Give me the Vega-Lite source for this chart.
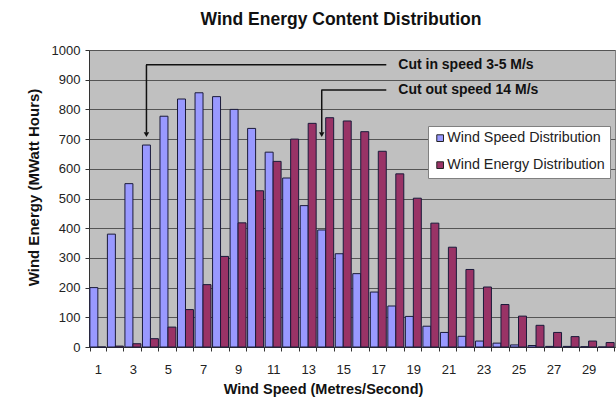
{
  "$schema": "https://vega.github.io/schema/vega-lite/v6.json",
  "autosize": {"type": "none"},
  "padding": {"left": 89, "top": 50, "right": 1, "bottom": 51},
  "width": 526,
  "height": 297,
  "background": "white",
  "config": {
    "font": "Liberation Sans",
    "view": {"fill": "#C0C0C0", "stroke": "#808080", "strokeWidth": 1},
    "axisX": {
      "titleFont": "Liberation Sans",
      "titleFontSize": 14.5,
      "titleFontWeight": "bold",
      "titleColor": "#111111",
      "titleX": 234,
      "titleY": 42,
      "titleAlign": "center",
      "titleBaseline": "middle",
      "labelAngle": 0,
      "labelFontSize": 13,
      "labelColor": "#222222",
      "labelPadding": 18,
      "labelBaseline": "middle",
      "labelExpr": "datum.value % 2 == 1 ? datum.label : ''",
      "tickBand": "extent",
      "tickSize": 4,
      "tickColor": "#333333",
      "domainColor": "#333333",
      "grid": false
    },
    "axisY": {
      "titleFont": "Liberation Sans",
      "titleFontSize": 15,
      "titleFontWeight": "bold",
      "titleColor": "#111111",
      "titleX": -56,
      "titleY": 137,
      "titleAngle": -90,
      "titleAlign": "center",
      "titleBaseline": "middle",
      "tickCount": 10,
      "format": "d",
      "labelOverlap": false,
      "labelFontSize": 13,
      "labelColor": "#222222",
      "labelPadding": 5,
      "tickSize": 4,
      "tickColor": "#333333",
      "domainColor": "#333333",
      "grid": true,
      "gridColor": "#555555",
      "gridWidth": 1
    }
  },
  "title": {
    "text": "Wind Energy Content Distribution",
    "font": "Liberation Sans",
    "fontSize": 17.5,
    "fontWeight": "bold",
    "color": "#111111",
    "anchor": "middle",
    "offset": 16,
    "dx": -11
  },
  "datasets": {
    "bars": [
      {"speed": 1, "series": "Wind Speed Distribution", "value": 200},
      {"speed": 2, "series": "Wind Speed Distribution", "value": 380},
      {"speed": 3, "series": "Wind Speed Distribution", "value": 550},
      {"speed": 4, "series": "Wind Speed Distribution", "value": 680},
      {"speed": 5, "series": "Wind Speed Distribution", "value": 777},
      {"speed": 6, "series": "Wind Speed Distribution", "value": 835},
      {"speed": 7, "series": "Wind Speed Distribution", "value": 856},
      {"speed": 8, "series": "Wind Speed Distribution", "value": 843},
      {"speed": 9, "series": "Wind Speed Distribution", "value": 800},
      {"speed": 10, "series": "Wind Speed Distribution", "value": 736},
      {"speed": 11, "series": "Wind Speed Distribution", "value": 656},
      {"speed": 12, "series": "Wind Speed Distribution", "value": 569},
      {"speed": 13, "series": "Wind Speed Distribution", "value": 476},
      {"speed": 14, "series": "Wind Speed Distribution", "value": 394},
      {"speed": 15, "series": "Wind Speed Distribution", "value": 314},
      {"speed": 16, "series": "Wind Speed Distribution", "value": 247},
      {"speed": 17, "series": "Wind Speed Distribution", "value": 185},
      {"speed": 18, "series": "Wind Speed Distribution", "value": 138},
      {"speed": 19, "series": "Wind Speed Distribution", "value": 103},
      {"speed": 20, "series": "Wind Speed Distribution", "value": 70},
      {"speed": 21, "series": "Wind Speed Distribution", "value": 49},
      {"speed": 22, "series": "Wind Speed Distribution", "value": 36},
      {"speed": 23, "series": "Wind Speed Distribution", "value": 20},
      {"speed": 24, "series": "Wind Speed Distribution", "value": 13},
      {"speed": 25, "series": "Wind Speed Distribution", "value": 7},
      {"speed": 26, "series": "Wind Speed Distribution", "value": 5},
      {"speed": 27, "series": "Wind Speed Distribution", "value": 2},
      {"speed": 28, "series": "Wind Speed Distribution", "value": 2},
      {"speed": 29, "series": "Wind Speed Distribution", "value": 1},
      {"speed": 30, "series": "Wind Speed Distribution", "value": 0},
      {"speed": 1, "series": "Wind Energy Distribution", "value": 0},
      {"speed": 2, "series": "Wind Energy Distribution", "value": 3},
      {"speed": 3, "series": "Wind Energy Distribution", "value": 11},
      {"speed": 4, "series": "Wind Energy Distribution", "value": 28},
      {"speed": 5, "series": "Wind Energy Distribution", "value": 67},
      {"speed": 6, "series": "Wind Energy Distribution", "value": 126},
      {"speed": 7, "series": "Wind Energy Distribution", "value": 210},
      {"speed": 8, "series": "Wind Energy Distribution", "value": 305},
      {"speed": 9, "series": "Wind Energy Distribution", "value": 418},
      {"speed": 10, "series": "Wind Energy Distribution", "value": 526},
      {"speed": 11, "series": "Wind Energy Distribution", "value": 625},
      {"speed": 12, "series": "Wind Energy Distribution", "value": 700},
      {"speed": 13, "series": "Wind Energy Distribution", "value": 753},
      {"speed": 14, "series": "Wind Energy Distribution", "value": 772},
      {"speed": 15, "series": "Wind Energy Distribution", "value": 761},
      {"speed": 16, "series": "Wind Energy Distribution", "value": 725},
      {"speed": 17, "series": "Wind Energy Distribution", "value": 659},
      {"speed": 18, "series": "Wind Energy Distribution", "value": 583},
      {"speed": 19, "series": "Wind Energy Distribution", "value": 501},
      {"speed": 20, "series": "Wind Energy Distribution", "value": 417},
      {"speed": 21, "series": "Wind Energy Distribution", "value": 336},
      {"speed": 22, "series": "Wind Energy Distribution", "value": 261},
      {"speed": 23, "series": "Wind Energy Distribution", "value": 202},
      {"speed": 24, "series": "Wind Energy Distribution", "value": 143},
      {"speed": 25, "series": "Wind Energy Distribution", "value": 104},
      {"speed": 26, "series": "Wind Energy Distribution", "value": 73},
      {"speed": 27, "series": "Wind Energy Distribution", "value": 49},
      {"speed": 28, "series": "Wind Energy Distribution", "value": 35},
      {"speed": 29, "series": "Wind Energy Distribution", "value": 20},
      {"speed": 30, "series": "Wind Energy Distribution", "value": 15}
    ],
    "notes": [
      {"label": "Cut in speed 3-5 M/s", "from": 4, "to": 17, "top": 950, "tip": 722, "series": "Wind Speed Distribution"},
      {"label": "Cut out speed 14 M/s", "from": 14, "to": 17, "top": 865, "tip": 722, "series": "Wind Speed Distribution"}
    ]
  },
  "layer": [
    {
      "data": {"name": "bars"},
      "mark": {"type": "bar", "stroke": "#1a1a3a", "strokeWidth": 1},
      "encoding": {
        "x": {
          "field": "speed",
          "type": "ordinal",
          "title": "Wind Speed (Metres/Second)",
          "scale": {"paddingInner": 0.09, "paddingOuter": 0.05}
        },
        "xOffset": {
          "field": "series",
          "type": "nominal",
          "scale": {"domain": ["Wind Speed Distribution", "Wind Energy Distribution"]}
        },
        "y": {
          "field": "value",
          "type": "quantitative",
          "title": "Wind Energy (MWatt Hours)",
          "scale": {"domain": [0, 1000], "nice": false}
        },
        "color": {
          "field": "series",
          "type": "nominal",
          "scale": {
            "domain": ["Wind Speed Distribution", "Wind Energy Distribution"],
            "range": ["#9999FF", "#993366"]
          },
          "legend": {
            "title": null,
            "orient": "none",
            "legendX": 339,
            "legendY": 76,
            "fillColor": "white",
            "strokeColor": "#808080",
            "padding": 5,
            "symbolType": "square",
            "symbolSize": 45,
            "symbolStrokeColor": "#222222",
            "symbolStrokeWidth": 1,
            "labelFont": "Liberation Sans",
            "labelFontSize": 14.3,
            "labelColor": "#222222",
            "rowPadding": 12,
            "labelOffset": 0
          }
        }
      }
    },
    {
      "data": {"name": "notes"},
      "mark": {"type": "rule", "color": "#111111", "strokeWidth": 1.5},
      "encoding": {
        "x": {"field": "from", "type": "ordinal", "title": "Wind Speed (Metres/Second)"},
        "xOffset": {"field": "series", "type": "nominal"},
        "y": {"field": "top", "type": "quantitative", "title": "Wind Energy (MWatt Hours)"},
        "y2": {"field": "tip"}
      }
    },
    {
      "data": {"name": "notes"},
      "mark": {"type": "rule", "color": "#111111", "strokeWidth": 1.5, "xOffset": -4.4, "x2Offset": 8},
      "encoding": {
        "x": {"field": "from", "type": "ordinal", "title": "Wind Speed (Metres/Second)"},
        "x2": {"field": "to"},
        "y": {"field": "top", "type": "quantitative", "title": "Wind Energy (MWatt Hours)"}
      }
    },
    {
      "data": {"name": "notes"},
      "mark": {"type": "point", "shape": "triangle-down", "filled": true, "color": "#111111", "size": 30, "opacity": 1, "yOffset": 2},
      "encoding": {
        "x": {"field": "from", "type": "ordinal", "title": "Wind Speed (Metres/Second)"},
        "xOffset": {"field": "series", "type": "nominal"},
        "y": {"field": "tip", "type": "quantitative", "title": "Wind Energy (MWatt Hours)"}
      }
    },
    {
      "data": {"name": "notes"},
      "mark": {"type": "text", "align": "left", "baseline": "middle", "dx": 20, "font": "Liberation Sans", "fontSize": 14, "fontWeight": "bold", "color": "#111111"},
      "encoding": {
        "x": {"field": "to", "type": "ordinal", "title": "Wind Speed (Metres/Second)"},
        "y": {"field": "top", "type": "quantitative", "title": "Wind Energy (MWatt Hours)"},
        "text": {"field": "label"}
      }
    }
  ]
}
